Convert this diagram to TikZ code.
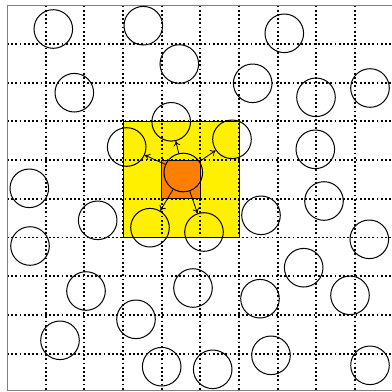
\documentclass[tikz,border=0pt]{standalone}
\usetikzlibrary{arrows.meta}
\definecolor{yel}{RGB}{255,240,0}
\definecolor{org}{RGB}{255,128,0}
\tikzset{
  cell/.style={circle,draw=black,line width=1pt,minimum size=38.6pt,inner sep=0pt},
  gridline/.style={line width=1.9pt,dash pattern=on 1.8pt off 2.4pt},
  link/.style={-{To[length=5pt,width=7pt]},line width=0.8pt}
}
\begin{document}
\begin{tikzpicture}[x=1pt,y=-1pt]
\useasboundingbox (0,0) rectangle (392,392);
\fill[white] (0,0) rectangle (392,392);
% yellow neighbourhood
\fill[yel] (123.0,121.4) rectangle (239.0,237.5);
% grid
\foreach \k in {1,...,9}{
  \draw[gridline] ({7+38.66*\k},5.5) -- ({7+38.66*\k},390.5);
  \draw[gridline] (7,{5.3+38.7*\k}) -- (394.5,{5.3+38.7*\k});
}
\draw[line width=0.8pt] (123.0,121.4) rectangle (239.0,237.5);
% orange cell
\filldraw[fill=org,draw=black,line width=0.9pt] (161.6,160.1) rectangle (200.3,198.8);
% frame
\draw[gray,line width=1pt] (7,5.5) rectangle (394.5,390.5);
% circles
\node[cell] (c1) at (53.3,29) {};
\node[cell] (c2) at (143.3,25.7) {};
\node[cell] (c3) at (179.3,64) {};
\node[cell] (c4) at (74.3,92.7) {};
\node[cell] (c5) at (171.2,121.8) {};
\node[cell] (c6) at (126.7,147) {};
\node[cell] (c7) at (183.3,172.5) {};
\node[cell] (c8) at (29.3,188.3) {};
\node[cell] (c9) at (284.3,33.3) {};
\node[cell] (c10) at (252.7,83.3) {};
\node[cell] (c11) at (316,97.3) {};
\node[cell] (c12) at (370,88) {};
\node[cell] (c13) at (232,139.3) {};
\node[cell] (c14) at (315.3,149.3) {};
\node[cell] (c15) at (324,201) {};
\node[cell] (c16) at (97.7,220.3) {};
\node[cell] (c17) at (150,227.7) {};
\node[cell] (c18) at (30,246) {};
\node[cell] (c19) at (86,291) {};
\node[cell] (c20) at (136,319.3) {};
\node[cell] (c21) at (60,340.3) {};
\node[cell] (c22) at (161.7,366.7) {};
\node[cell] (c23) at (193,288) {};
\node[cell] (c24) at (212.7,369.3) {};
\node[cell] (c25) at (261,215.3) {};
\node[cell] (c26) at (204,232) {};
\node[cell] (c27) at (369.3,239.3) {};
\node[cell] (c28) at (303.7,267.7) {};
\node[cell] (c29) at (260,298.7) {};
\node[cell] (c30) at (350,295.3) {};
\node[cell] (c31) at (271,355.3) {};
\node[cell] (c32) at (370,365.3) {};
% links
\draw[link] (c7) -- (c5);
\draw[link] (c7) -- (c6);
\draw[link] (c7) -- (c13);
\draw[link] (c7) -- (c17);
\draw[link] (c7) -- (c26);
\end{tikzpicture}
\end{document}
